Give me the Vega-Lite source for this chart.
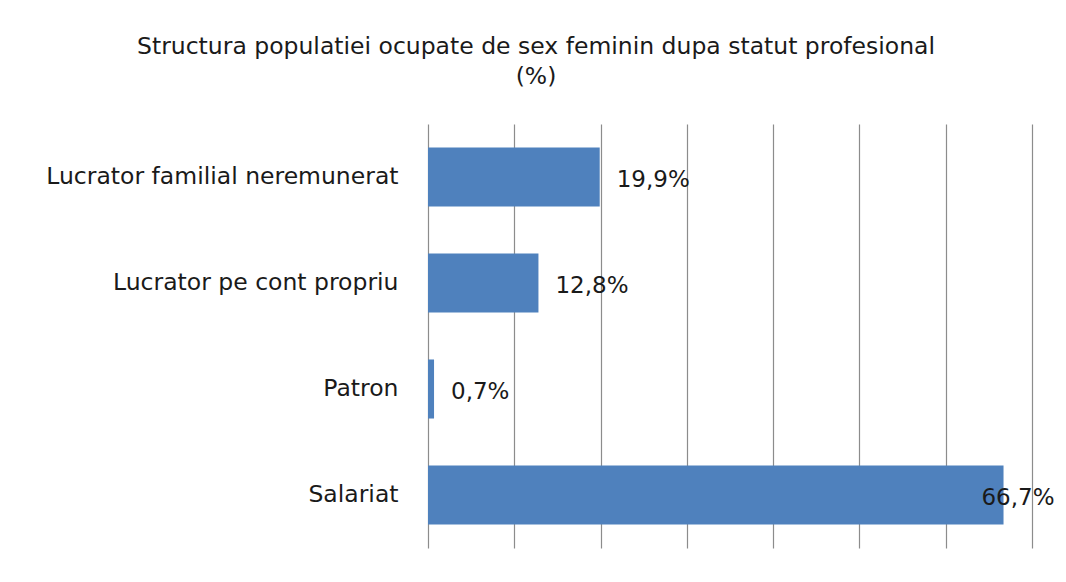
{
  "$schema": "https://vega.github.io/schema/vega-lite/v6.json",
  "width": 604,
  "height": 424,
  "autosize": {"type": "none"},
  "padding": {"left": 428, "top": 124, "right": 34, "bottom": 34},
  "background": "white",
  "config": {"view": {"stroke": null}},
  "title": {
    "text": ["Structura populatiei ocupate de sex feminin dupa statut profesional", "(%)"],
    "font": "DejaVu Sans",
    "fontSize": 23.5,
    "fontWeight": "normal",
    "color": "#1a1a1a",
    "anchor": "middle",
    "dx": -194,
    "offset": 36,
    "lineHeight": 30
  },
  "data": {
    "values": [
      {"categorie": "Lucrator familial neremunerat", "procent": 19.9, "eticheta": "19,9%"},
      {"categorie": "Lucrator pe cont propriu", "procent": 12.8, "eticheta": "12,8%"},
      {"categorie": "Patron", "procent": 0.7, "eticheta": "0,7%"},
      {"categorie": "Salariat", "procent": 66.7, "eticheta": "66,7%"}
    ]
  },
  "encoding": {
    "y": {
      "field": "categorie",
      "type": "nominal",
      "sort": null,
      "scale": {"paddingInner": 0.443, "paddingOuter": 0.2215},
      "axis": {
        "title": null,
        "domain": false,
        "ticks": false,
        "labelFont": "DejaVu Sans",
        "labelFontSize": 23.5,
        "labelColor": "#1a1a1a",
        "labelPadding": 30,
        "labelLimit": 500
      }
    },
    "x": {
      "field": "procent",
      "type": "quantitative",
      "scale": {"domain": [0, 70], "nice": false},
      "axis": {
        "title": null,
        "labels": false,
        "ticks": false,
        "domain": false,
        "grid": true,
        "gridColor": "#8c8c8c",
        "gridOpacity": 1,
        "gridWidth": 1.2,
        "values": [0, 10, 20, 30, 40, 50, 60, 70]
      }
    }
  },
  "layer": [
    {"mark": {"type": "bar", "color": "#4F81BD"}},
    {
      "transform": [{"filter": "datum.procent < 50"}],
      "mark": {"type": "text", "align": "left", "dx": 17, "dy": 3, "font": "DejaVu Sans", "fontSize": 23, "color": "#1a1a1a"},
      "encoding": {"text": {"field": "eticheta"}}
    },
    {
      "transform": [{"filter": "datum.procent >= 50"}],
      "mark": {"type": "text", "align": "right", "dx": 51, "dy": 3, "font": "DejaVu Sans", "fontSize": 23, "color": "#1a1a1a"},
      "encoding": {"text": {"field": "eticheta"}}
    }
  ]
}
